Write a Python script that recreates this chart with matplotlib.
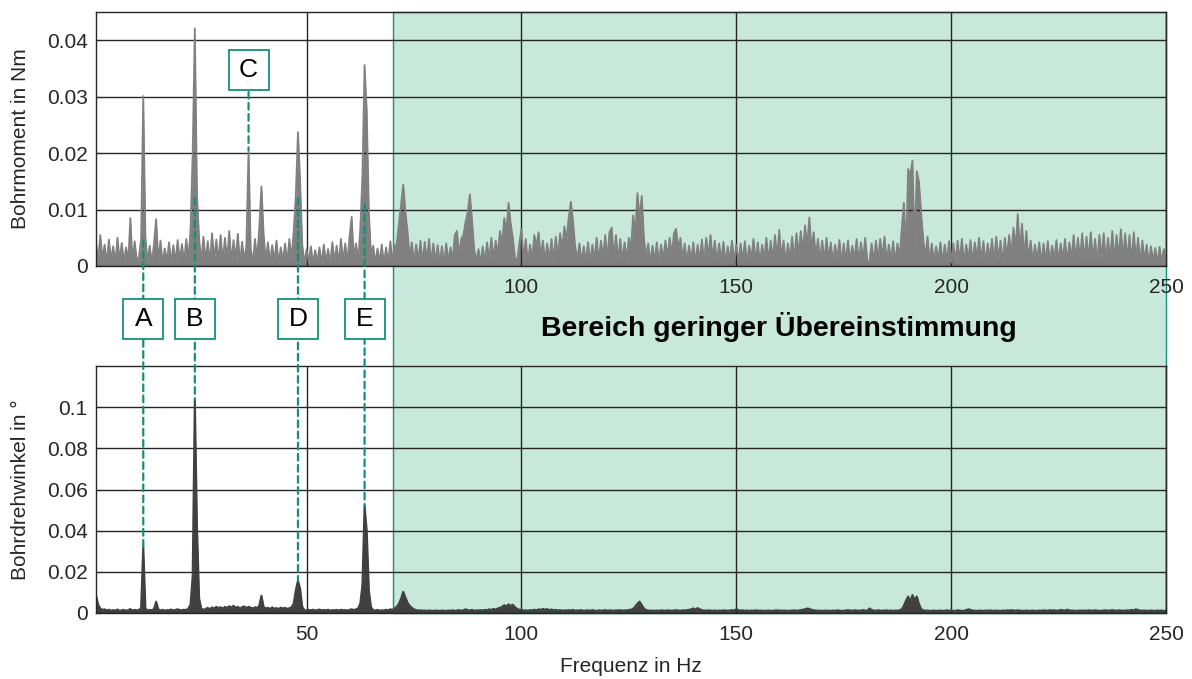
import numpy as np
import matplotlib.pyplot as plt
from matplotlib import transforms
from matplotlib.lines import Line2D
from matplotlib.patches import Rectangle, ConnectionPatch

plt.rcParams['font.family'] = ['Liberation Sans', 'DejaVu Sans']

# Frequenzraster der Spektren: 0.5 Hz ab 1 Hz
freq = np.arange(1.0, 250.01, 0.5)

# Amplitudenspektrum Bohrmoment, Einheit 1e-4 Nm (je Zeile 10 Hz)
moment_raw = [
    42, 8, 55, 12, 38, 5, 47, 10, 35, 4, 50, 9, 41, 6, 33, 7, 85, 5, 44, 9,
    16, 48, 301, 52, 6, 36, 4, 40, 83, 7, 45, 4, 31, 8, 42, 5, 37, 6, 46, 9,
    39, 6, 48, 10, 65, 200, 421, 127, 48, 7, 52, 9, 44, 6, 58, 11, 47, 8, 55, 6,
    50, 9, 62, 7, 46, 11, 57, 5, 43, 8, 38, 206, 30, 6, 48, 12, 68, 141, 58, 7,
    42, 5, 37, 7, 45, 4, 33, 9, 40, 6, 48, 11, 62, 125, 237, 150, 38, 4, 30, 6,
    35, 4, 28, 7, 33, 3, 38, 6, 30, 4, 42, 7, 36, 5, 48, 8, 40, 6, 52, 87,
    12, 40, 9, 65, 160, 356, 275, 95, 18, 36, 4, 31, 7, 38, 4, 33, 6, 44, 8, 35,
    40, 75, 110, 144, 95, 60, 15, 42, 6, 38, 8, 45, 5, 43, 9, 48, 5, 40, 7, 37,
    6, 35, 4, 40, 8, 33, 10, 55, 62, 20, 48, 55, 78, 95, 127, 82, 30, 8, 30, 5,
    35, 6, 42, 9, 50, 12, 45, 20, 62, 40, 85, 60, 112, 75, 50, 15, 8, 40, 65, 10,
    48, 6, 38, 12, 55, 35, 60, 15, 45, 7, 40, 10, 48, 8, 52, 15, 58, 30, 70, 45,
    85, 114, 80, 35, 12, 40, 6, 35, 9, 42, 5, 38, 11, 50, 7, 45, 15, 55, 12, 60,
    68, 15, 55, 10, 48, 8, 42, 12, 50, 30, 90, 60, 129, 85, 124, 50, 15, 40, 6, 36,
    9, 42, 5, 38, 10, 45, 15, 50, 20, 58, 66, 30, 50, 12, 40, 6, 36, 9, 42, 5,
    38, 11, 47, 7, 50, 15, 55, 12, 45, 6, 40, 9, 43, 5, 35, 10, 45, 7, 38, 6,
    40, 9, 44, 4, 36, 11, 48, 7, 42, 5, 38, 12, 50, 7, 45, 10, 55, 15, 64, 11,
    45, 7, 40, 14, 52, 10, 58, 20, 62, 25, 72, 35, 86, 28, 60, 17, 48, 10, 45, 7,
    50, 11, 42, 6, 38, 12, 46, 5, 40, 9, 45, 7, 36, 11, 48, 6, 42, 10, 50, 8,
    8, 40, 6, 45, 10, 48, 15, 52, 7, 38, 10, 44, 6, 40, 15, 65, 112, 25, 172, 160,
    187, 30, 168, 150, 95, 48, 15, 52, 7, 40, 6, 35, 10, 42, 5, 38, 9, 44, 6, 40,
    7, 45, 10, 48, 5, 38, 12, 46, 6, 42, 15, 50, 9, 44, 5, 40, 12, 48, 7, 52,
    10, 45, 6, 50, 15, 55, 20, 68, 30, 92, 28, 75, 15, 62, 10, 45, 6, 38, 10, 42,
    5, 40, 9, 44, 6, 36, 11, 46, 7, 40, 10, 48, 6, 42, 12, 55, 9, 50, 11, 58,
    8, 52, 12, 60, 10, 48, 6, 55, 14, 58, 8, 50, 11, 62, 9, 55, 15, 65, 12, 58,
    10, 55, 7, 60, 11, 50, 6, 45, 9, 38, 5, 35, 8, 32, 4, 34, 7, 30, 6,
]

# Amplitudenspektrum Bohrdrehwinkel, Einheit 1e-4 Grad
winkel_raw = [
    85, 40, 22, 15, 18, 12, 16, 11, 14, 12, 17, 10, 13, 15, 11, 14, 19, 12, 15, 13,
    14, 25, 322, 22, 12, 15, 13, 20, 55, 18, 12, 16, 11, 14, 13, 17, 12, 15, 18, 14,
    13, 16, 14, 22, 40, 180, 1037, 420, 70, 22, 15, 20, 25, 18, 27, 22, 30, 24, 28, 21,
    30, 24, 33, 26, 35, 25, 30, 22, 28, 32, 24, 30, 26, 22, 28, 24, 35, 84, 30, 22,
    25, 20, 27, 21, 24, 19, 26, 22, 25, 20, 23, 28, 45, 110, 157, 118, 30, 14, 12, 15,
    13, 16, 12, 14, 17, 12, 15, 13, 16, 11, 14, 13, 15, 12, 16, 13, 14, 12, 15, 18,
    14, 18, 22, 45, 135, 520, 400, 110, 28, 14, 12, 15, 11, 13, 12, 16, 13, 18, 15, 22,
    30, 45, 70, 103, 75, 50, 35, 25, 18, 14, 12, 13, 11, 12, 10, 12, 11, 10, 12, 11,
    10, 12, 11, 10, 12, 11, 13, 10, 12, 14, 11, 13, 18, 14, 12, 15, 11, 13, 12, 14,
    12, 15, 13, 18, 14, 20, 16, 22, 25, 30, 38, 32, 42, 35, 40, 28, 20, 16, 14, 12,
    13, 11, 14, 12, 16, 13, 18, 15, 20, 16, 19, 14, 17, 13, 15, 12, 14, 11, 13, 12,
    14, 12, 15, 11, 13, 12, 14, 10, 12, 13, 11, 14, 12, 10, 13, 11, 12, 14, 11, 13,
    12, 11, 13, 12, 14, 11, 13, 12, 15, 16, 20, 32, 45, 55, 38, 22, 14, 12, 11, 12,
    10, 12, 11, 13, 12, 11, 13, 12, 11, 12, 14, 12, 11, 13, 12, 14, 15, 18, 22, 17,
    24, 18, 14, 12, 11, 13, 12, 11, 12, 10, 12, 11, 13, 12, 11, 12, 14, 12, 18, 14,
    12, 13, 11, 12, 10, 12, 11, 13, 12, 11, 12, 10, 11, 12, 10, 11, 12, 13, 11, 12,
    11, 12, 10, 11, 12, 13, 11, 12, 14, 16, 18, 22, 20, 16, 13, 12, 11, 12, 10, 11,
    12, 11, 10, 12, 11, 13, 12, 10, 11, 12, 14, 12, 11, 13, 12, 11, 12, 14, 12, 11,
    22, 15, 12, 11, 13, 12, 11, 12, 13, 11, 12, 10, 12, 11, 13, 18, 35, 60, 80, 55,
    87, 62, 80, 45, 20, 13, 11, 12, 10, 11, 12, 10, 11, 12, 10, 11, 13, 11, 12, 10,
    11, 13, 12, 10, 11, 14, 18, 15, 12, 11, 10, 12, 11, 10, 12, 11, 13, 11, 10, 12,
    11, 10, 12, 11, 13, 12, 14, 12, 11, 13, 12, 10, 11, 12, 10, 11, 12, 10, 11, 12,
    11, 13, 12, 11, 14, 12, 13, 11, 12, 15, 13, 12, 16, 13, 11, 12, 10, 11, 12, 11,
    12, 11, 13, 12, 11, 13, 12, 10, 11, 12, 13, 11, 12, 14, 12, 11, 13, 12, 11, 12,
    13, 12, 15, 13, 18, 14, 12, 11, 12, 10, 11, 12, 11, 10, 12, 11, 12, 10, 11,
]

moment = np.array(moment_raw) * 1e-4
winkel = np.array(winkel_raw) * 1e-4

# markierte Peaks: Frequenz, Strichlinie oben (Nm) und unten (Grad)
peak_names = ['A', 'B', 'D', 'E']
peak_freqs = [12.0, 24.0, 48.0, 63.5]
peak_top = [0.0046, 0.012, 0.012, 0.011]
peak_bottom = [0.0322, 0.1037, 0.0157, 0.052]
# Peak C nur im Bohrmoment
c_freq, c_value, c_box = 36.5, 0.0206, 0.0348

# Bereich geringer Uebereinstimmung
range_lo, range_hi = 70.0, 250.0

teal = '#12917a'
shade = '#c8e8dc'
grid_c = '#262626'
gray_top = '#808080'
gray_bot = '#404040'

W, H = 1192, 679
fig = plt.figure(figsize=(W / 100, H / 100), dpi=100)
ax1 = fig.add_axes([96 / W, 1 - 266 / H, 1070 / W, 254 / H])
ax2 = fig.add_axes([96 / W, 1 - 613 / H, 1070 / W, 247 / H])

for ax in (ax1, ax2):
    ax.set_facecolor('none')
    ax.set_xlim(1, 250)
    ax.set_xticks([50, 100, 150, 200, 250])
    ax.grid(True, color=grid_c, lw=1.0)
    ax.tick_params(direction='in', length=4, labelsize=15, colors=grid_c, pad=6)
    ax.tick_params(axis='x', pad=9)
    for s in ax.spines.values():
        s.set_color(grid_c)
        s.set_linewidth(1.0)

ax1.fill_between(freq, moment, color=gray_top, lw=0)
ax1.plot(freq, moment, color=gray_top, lw=1.3)
ax1.set_ylim(0, 0.045)
ax1.set_yticks([0, 0.01, 0.02, 0.03, 0.04])
ax1.set_yticklabels(['0', '0.01', '0.02', '0.03', '0.04'])
ax1.set_xticklabels(['', '100', '150', '200', '250'])
ax1.set_ylabel('Bohrmoment in Nm', fontsize=15, color=grid_c)
ax1.yaxis.set_label_coords(-0.062, 0.5)

ax2.fill_between(freq, winkel, color=gray_bot, lw=0)
ax2.plot(freq, winkel, color=gray_bot, lw=1.5)
ax2.set_ylim(0, 0.12)
ax2.set_yticks([0, 0.02, 0.04, 0.06, 0.08, 0.1])
ax2.set_yticklabels(['0', '0.02', '0.04', '0.06', '0.08', '0.1'])
ax2.set_xticklabels(['50', '100', '150', '200', '250'])
ax2.set_ylabel('Bohrdrehwinkel in °', fontsize=15, color=grid_c)
ax2.yaxis.set_label_coords(-0.062, 0.5)
ax2.set_xlabel('Frequenz in Hz', fontsize=15, color=grid_c, labelpad=9)

# x in Daten, y in Figurkoordinaten
blend = transforms.blended_transform_factory(ax2.transData, fig.transFigure)
y_lo, y_hi = 1 - 613 / H, 1 - 12 / H
fig.add_artist(Rectangle((range_lo, y_lo), range_hi - range_lo, y_hi - y_lo,
                         transform=blend, facecolor=shade, edgecolor=teal,
                         lw=1.0, zorder=-1))
fig.text((range_lo + range_hi) / 2, 1 - 327 / H, 'Bereich geringer Übereinstimmung',
         transform=blend, ha='center', va='center', fontsize=20.5,
         fontweight='bold', color='black', zorder=6)

dash = (0, (3, 2))
box_y = 1 - 319 / H
for name, f, yt, yb in zip(peak_names, peak_freqs, peak_top, peak_bottom):
    cp = ConnectionPatch(xyA=(f, yt), coordsA=ax1.transData,
                         xyB=(f, yb), coordsB=ax2.transData,
                         color=teal, lw=1.6, linestyle=dash, zorder=4)
    fig.add_artist(cp)
    fig.add_artist(Line2D([f], [box_y], transform=blend, marker='s', ms=29,
                          mfc='white', mec=teal, mew=1.3, zorder=5))
    fig.text(f, box_y, name, transform=blend, ha='center', va='center',
             fontsize=19, color='black', zorder=6)

cp = ConnectionPatch(xyA=(c_freq, c_box), coordsA=ax1.transData,
                     xyB=(c_freq, c_value), coordsB=ax1.transData,
                     color=teal, lw=1.6, linestyle=dash, zorder=4)
fig.add_artist(cp)
fig.add_artist(Line2D([c_freq], [c_box], transform=ax1.transData, marker='s', ms=29,
                      mfc='white', mec=teal, mew=1.3, zorder=5))
fig.text(c_freq, c_box, 'C', transform=ax1.transData, ha='center', va='center',
         fontsize=19, color='black', zorder=6)

fig.savefig('out.png', dpi=100)
